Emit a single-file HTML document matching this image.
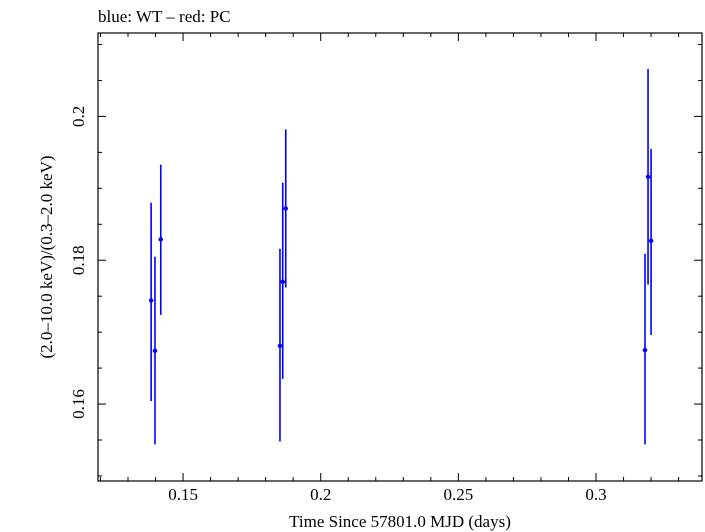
<!DOCTYPE html>
<html><head><meta charset="utf-8"><style>
html,body{margin:0;padding:0;background:#fff;}
svg{display:block;font-family:"Liberation Serif",serif;}
</style></head><body>
<svg id="chart" width="705" height="532" viewBox="0 0 705 532">
<rect x="0" y="0" width="705" height="532" fill="#fff"/>
<text x="98" y="22" font-size="17" fill="#000">blue: WT – red: PC</text>
<rect x="98" y="33" width="604" height="448" fill="none" stroke="#000" stroke-width="1.2"/>
<g id="ticks"></g>
<g id="marks"></g>
<text x="400" y="527" font-size="17" text-anchor="middle">Time Since 57801.0 MJD (days)</text>
<text transform="translate(52,257) rotate(-90)" font-size="17" text-anchor="middle">(2.0–10.0 keV)/(0.3–2.0 keV)</text>
</svg>
<script>
const times = [0.1384, 0.1398, 0.1419, 0.1852, 0.1862, 0.1873, 0.3178, 0.3189, 0.3200];
const ratios = [0.1744, 0.1674, 0.1829, 0.1681, 0.1770, 0.1872, 0.1675, 0.1916, 0.1827];
const ratioHigh = [0.1880, 0.1805, 0.1933, 0.1816, 0.1908, 0.1982, 0.1809, 0.2066, 0.1955];
const ratioLow = [0.1604, 0.1544, 0.1724, 0.1548, 0.1635, 0.1762, 0.1544, 0.1766, 0.1696];
const timeErr = [0.0008, 0.0008, 0.0008, 0.0008, 0.0008, 0.0008, 0.0008, 0.0008, 0.0008];
const xTickLabels = ["0.15", "0.2", "0.25", "0.3"];
const yTickLabels = ["0.16", "0.18", "0.2"];

const X0=98, X1=702, Y0=481, Y1=33;
const xmin=0.1191, xmax=0.3385, ymin=0.1493, ymax=0.2116;
const sx = v => X0 + (v - xmin) / (xmax - xmin) * (X1 - X0);
const sy = v => Y0 - (v - ymin) / (ymax - ymin) * (Y0 - Y1);
const NS = "http://www.w3.org/2000/svg";
function mk(tag, attrs, parent){const e=document.createElementNS(NS,tag);for(const k in attrs)e.setAttribute(k,attrs[k]);parent.appendChild(e);return e;}
const tg = document.getElementById("ticks");
for (let i=12;i<=33;i++){const v=i/100;const x=sx(v);if(x<X0||x>X1)continue;const major=(i%5===0);const L=major?8:4;
  let t=mk("line",{x1:x,x2:x,y1:Y0,y2:Y0-L,stroke:"#000","stroke-width":1},tg);
  
  
  let t2=mk("line",{x1:x,x2:x,y1:Y1,y2:Y1+L,stroke:"#000","stroke-width":1},tg);
  
  
}
xTickLabels.forEach(s=>{const e=mk("text",{x:sx(parseFloat(s)),y:500,"font-size":17,"text-anchor":"middle"},tg);e.textContent=s;
  
  });
for (let i=30;i<=42;i++){const v=i/200;const y=sy(v);if(y<Y1||y>Y0)continue;const major=(i%4===0);const L=major?8:4;
  let t=mk("line",{x1:X0,x2:X0+L,y1:y,y2:y,stroke:"#000","stroke-width":1},tg);
  
  
  let t2=mk("line",{x1:X1,x2:X1-L,y1:y,y2:y,stroke:"#000","stroke-width":1},tg);
  
  
}
yTickLabels.forEach(s=>{const y=sy(parseFloat(s));const e=mk("text",{transform:`translate(84,${y}) rotate(-90)`,"font-size":17,"text-anchor":"middle"},tg);e.textContent=s;
  
  });
const mg=document.getElementById("marks");
times.forEach((t,i)=>{const x=sx(t),y=sy(ratios[i]);
  const g=mk("g",{},mg);
  
  
  mk("line",{x1:x,x2:x,y1:sy(ratioHigh[i]),y2:sy(ratioLow[i]),stroke:"#0000ff","stroke-width":1.6},g);
  mk("line",{x1:sx(t-timeErr[i]),x2:sx(t+timeErr[i]),y1:y,y2:y,stroke:"#0000ff","stroke-width":1.6},g);
  mk("circle",{cx:x,cy:y,r:2.2,fill:"#0000ff"},g);
});
</script>
</body></html>
